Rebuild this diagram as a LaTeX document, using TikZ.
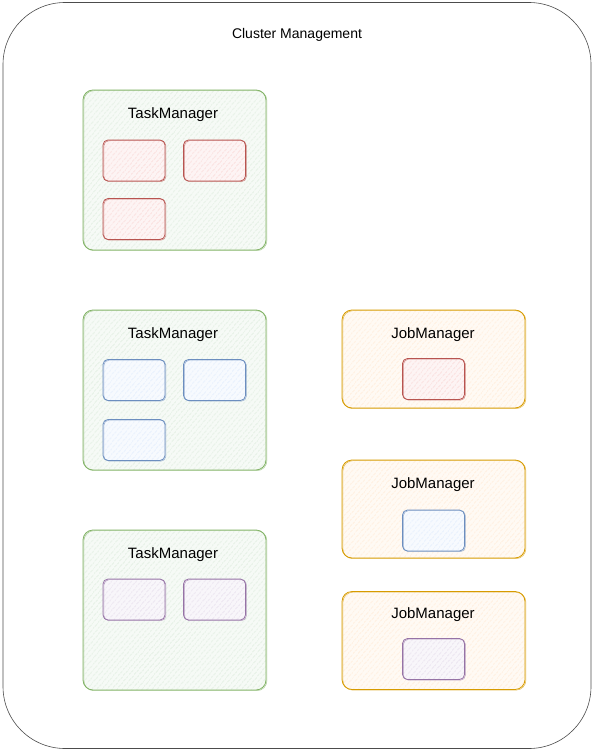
\documentclass[tikz,border=0pt]{standalone}
\usepackage{fontspec}
\setmainfont{Liberation Sans}
\usepackage{xcolor}
\usetikzlibrary{patterns.meta}

\definecolor{tmgreen}{HTML}{82B366}
\definecolor{tmfill}{HTML}{D5E8D4}
\definecolor{jmorange}{HTML}{D79B00}
\definecolor{jmfill}{HTML}{FFE6CC}
\definecolor{slotred}{HTML}{B85450}
\definecolor{redfill}{HTML}{F8CECC}
\definecolor{slotblue}{HTML}{6C8EBF}
\definecolor{bluefill}{HTML}{DAE8FC}
\definecolor{slotpurple}{HTML}{9673A6}
\definecolor{purplefill}{HTML}{E1D5E7}

\tikzset{
  sketch/.style={rounded corners=10, line width=0.8pt, inner sep=0pt, outer sep=0pt,
    postaction={draw, line width=0.5pt, draw opacity=0.7, transform canvas={shift={(0.9pt,-0.7pt)}}}},
  hatch/.style={preaction={fill=#1!22!white},
    pattern={Lines[angle=50,distance=4pt,line width=0.6pt]}, pattern color=#1},
  tmbox/.style={sketch, draw=tmgreen, hatch=tmfill, minimum width=183, minimum height=160},
  jmbox/.style={sketch, draw=jmorange, hatch=jmfill, minimum width=183, minimum height=98},
  slot/.style={sketch, rounded corners=5, draw=#1, minimum width=62, minimum height=41},
  redslot/.style={slot=slotred, hatch=redfill},
  blueslot/.style={slot=slotblue, hatch=bluefill},
  purpleslot/.style={slot=slotpurple, hatch=purplefill},
  boxlabel/.style={font=\fontsize{15}{18}\selectfont, inner sep=0pt}
}

\begin{document}
\begin{tikzpicture}[x=1pt, y=-1pt]
    \useasboundingbox (0,0) rectangle (594,751);

    % Cluster frame
    \node[draw=black!70, line width=0.6pt, rounded corners=62, minimum width=588, minimum height=746,
          inner sep=0pt] (cluster) at (297,375.5) {};
    \node[font=\fontsize{14}{17}\selectfont, inner sep=0pt] (clusterlabel) at (297,35) {Cluster Management};

    % TaskManagers
    \node[tmbox] (tm1) at (174.5,170) {};
    \node[boxlabel] (tm1label) at (173,115) {TaskManager};
    \node[redslot] (tm1s1) at (134,160.5) {};
    \node[redslot] (tm1s2) at (214.5,160.5) {};
    \node[redslot] (tm1s3) at (134,219) {};

    \node[tmbox] (tm2) at (174.5,390) {};
    \node[boxlabel] (tm2label) at (173,335) {TaskManager};
    \node[blueslot] (tm2s1) at (134,380) {};
    \node[blueslot] (tm2s2) at (214.5,380) {};
    \node[blueslot] (tm2s3) at (134,440) {};

    \node[tmbox] (tm3) at (174.5,610) {};
    \node[boxlabel] (tm3label) at (173,555) {TaskManager};
    \node[purpleslot] (tm3s1) at (134,599.5) {};
    \node[purpleslot] (tm3s2) at (214.5,599.5) {};

    % JobManagers
    \node[jmbox] (jm1) at (433.5,359) {};
    \node[boxlabel] (jm1label) at (433,335) {JobManager};
    \node[redslot] (jm1s1) at (433.5,379) {};

    \node[jmbox] (jm2) at (433.5,509) {};
    \node[boxlabel] (jm2label) at (433,485) {JobManager};
    \node[blueslot] (jm2s1) at (433.5,530.5) {};

    \node[jmbox] (jm3) at (433.5,640.5) {};
    \node[boxlabel] (jm3label) at (433,615) {JobManager};
    \node[purpleslot] (jm3s1) at (433.5,659) {};
\end{tikzpicture}
\end{document}
